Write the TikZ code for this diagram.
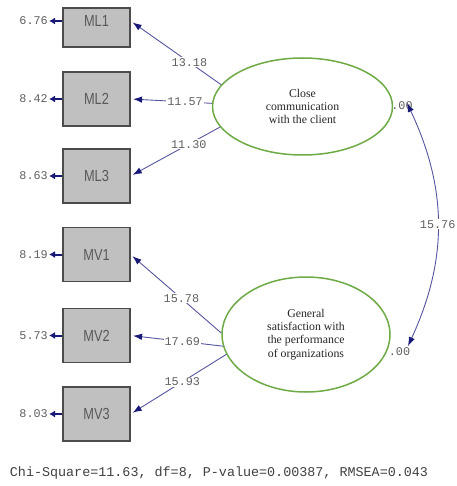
\documentclass[tikz,border=0pt]{standalone}
\usepackage{fontspec}
\setmainfont{Liberation Serif}
\newfontfamily\monofont{Liberation Mono}
\newfontfamily\boxfont{Liberation Sans}[FakeStretch=0.8]
\usepackage{xcolor}
\usepackage{tikz}
\usetikzlibrary{arrows.meta,shapes.geometric}
\definecolor{pathblue}{RGB}{85,85,160}
\definecolor{tipblue}{RGB}{25,25,120}
\definecolor{latgreen}{RGB}{110,170,70}
\definecolor{boxgray}{RGB}{192,192,192}
\definecolor{numgray}{RGB}{95,95,95}

\begin{document}
\begin{tikzpicture}[x=1pt, y=1pt,
  obs/.style={draw=black!70, line width=1.2pt, fill=boxgray, inner sep=0pt,
              minimum width=67pt, minimum height=54pt,
              font=\boxfont\fontsize{16}{18}\selectfont, text=black!65},
  lat/.style={ellipse, draw=latgreen, line width=1.5pt, fill=white, inner sep=0pt,
              align=center, font=\fontsize{11.8}{13.2}\selectfont, text=black!85},
  num/.style={font=\monofont\fontsize{11.8}{12}\selectfont, text=numgray, inner sep=1pt},
  load/.style={draw=pathblue, line width=0.9pt, shorten >=2.5pt,
               -{Latex[length=9pt,width=6.5pt,color=tipblue]}},
  err/.style={draw=tipblue, line width=2pt, -{Latex[length=6pt,width=7pt]}},
  cov/.style={draw=pathblue, line width=0.9pt,
              {Latex[length=9pt,width=6.5pt,color=tipblue]}-{Latex[length=9pt,width=6.5pt,color=tipblue]}}
]
  \useasboundingbox (0,0) rectangle (456,-486);

  % observed variables
  \node[obs, minimum height=39pt] (ML1) at (96.5,-27.5) {\raisebox{13pt}{ML1}};
  \node[obs] (ML2) at (96.5,-99)  {ML2};
  \node[obs] (ML3) at (96.5,-176) {ML3};
  \node[obs] (MV1) at (96.5,-254.5) {MV1};
  \node[obs] (MV2) at (96.5,-335.5) {MV2};
  \node[obs] (MV3) at (96.5,-414)   {MV3};

  % error variances
  \node[num, anchor=east] (dML1) at (49,-21)  {6.76};
  \node[num, anchor=east] (dML2) at (49,-99)  {8.42};
  \node[num, anchor=east] (dML3) at (49,-176) {8.63};
  \node[num, anchor=east] (dMV1) at (49,-254.5) {8.19};
  \node[num, anchor=east] (dMV2) at (49,-335.5) {5.73};
  \node[num, anchor=east] (dMV3) at (49,-414)   {8.03};
  \draw[err] ([yshift=6.5pt]ML1.west) -- (dML1.east);
  \draw[err] (ML2.west) -- (dML2.east);
  \draw[err] (ML3.west) -- (dML3.east);
  \draw[err] (MV1.west) -- (dMV1.east);
  \draw[err] (MV2.west) -- (dMV2.east);
  \draw[err] (MV3.west) -- (dMV3.east);

  % latent variables
  \node[lat, minimum width=180pt, minimum height=97pt] (close) at (302.5,-106.5)
    {Close\\communication\\with the client};
  \node[lat, minimum width=168pt, minimum height=115pt] (satis) at (306,-334.5)
    {General\\satisfaction with\\the performance\\of organizations};

  % loadings
  \draw[load] (close.165) -- node[num, fill=white, pos=0.35] {13.18} ([yshift=6.5pt]ML1.east);
  \draw[load] (close.178) -- node[num, fill=white, pos=0.33] {11.57} (ML2.east);
  \draw[load] (close.194) -- node[num, fill=white, pos=0.35] {11.30} (ML3.east);
  \draw[load] (satis.179) -- node[num, fill=white, pos=0.44] {15.78} (MV1.east);
  \draw[load] (satis.188) -- node[num, fill=white, pos=0.44] {17.69} (MV2.east);
  \draw[load] (satis.194) -- node[num, fill=white, pos=0.46] {15.93} (MV3.east);

  % variances and covariance of the factors
  \node[num] (vclose) at (402,-106) {.00};
  \node[num] (vsatis) at (399.5,-352) {.00};
  \coordinate (tclose) at (407,-103);
  \coordinate (tsatis) at (408,-346);
  \draw[cov] (tclose) to[bend left=25] node[num, fill=white] {15.76} (tsatis);

  \node[font=\monofont\fontsize{13.4}{15}\selectfont, text=black!75] (fitline) at (219,-473)
    {Chi-Square=11.63, df=8, P-value=0.00387, RMSEA=0.043};
\end{tikzpicture}
\end{document}
